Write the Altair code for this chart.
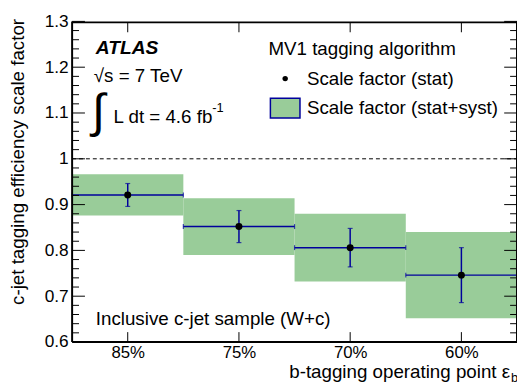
import altair as alt
import pandas as pd
import json

# ---- data ----
op_labels = ["85%", "75%", "70%", "60%"]
scale_factor = [0.921, 0.852, 0.806, 0.746]
stat_err = [0.025, 0.035, 0.042, 0.060]
total_err = [0.045, 0.062, 0.074, 0.094]

y_major = [0.6, 0.7, 0.8, 0.9, 1.0, 1.1, 1.2, 1.3]
y_minor = [round(0.6 + 0.02 * i, 2) for i in range(36) if i % 5 != 0]
x_ticks = [0.5, 1.5, 2.5, 3.5]

# ---- layout / style ----
W, H = 451, 325
FONT = "Liberation Sans"
GREEN = "#99cc99"
BLUE = "#00009c"

df = pd.DataFrame({
    "xc": [i + 0.5 for i in range(len(op_labels))],
    "xlo": [float(i) for i in range(len(op_labels))],
    "xhi": [float(i + 1) for i in range(len(op_labels))],
    "sf": scale_factor,
    "slo": [s - e for s, e in zip(scale_factor, stat_err)],
    "shi": [s + e for s, e in zip(scale_factor, stat_err)],
    "tlo": [s - e for s, e in zip(scale_factor, total_err)],
    "thi": [s + e for s, e in zip(scale_factor, total_err)],
})

xscale = alt.Scale(domain=[0, 4], nice=False, zero=False)
yscale = alt.Scale(domain=[0.6, 1.3], nice=False, zero=False)

xaxis = alt.Axis(values=x_ticks, title=None, ticks=False, domain=False, grid=False,
                 labelExpr=json.dumps(op_labels) + "[floor(datum.value)]",
                 labelFont=FONT, labelFontSize=17, labelColor="black", labelPadding=3)
yaxis = alt.Axis(values=y_major, ticks=False, domain=False, grid=False,
                 labelExpr="datum.value == 1 ? '1' : format(datum.value, '.1f')",
                 labelFont=FONT, labelFontSize=17.5, labelColor="black", labelPadding=4,
                 title="c-jet tagging efficiency scale factor", titleFont=FONT, titleFontSize=19,
                 titleFontWeight="normal", titleColor="black", titleAngle=270,
                 titleAlign="right", titleBaseline="alphabetic", titleX=-49, titleY=-3)


def X(f):
    return alt.X(f, scale=xscale, axis=xaxis)


def Y(f):
    return alt.Y(f, scale=yscale, axis=yaxis)


base = alt.Chart(df)

boxes = base.mark_rect(color=GREEN, opacity=1).encode(
    x=X("xlo:Q"), x2="xhi:Q", y=Y("tlo:Q"), y2="thi:Q")

one_line = alt.Chart(pd.DataFrame({"v": [1.0]})).mark_rule(
    color="black", strokeWidth=1, strokeDash=[4, 3]).encode(
    y=Y("v:Q"), x=alt.value(0), x2=alt.value(W))

hbar = base.mark_rule(color=BLUE, strokeWidth=1.5).encode(
    x=X("xlo:Q"), x2="xhi:Q", y=Y("sf:Q"))
vbar = base.mark_rule(color=BLUE, strokeWidth=1.5).encode(
    x=X("xc:Q"), y=Y("slo:Q"), y2="shi:Q")

cap_lo = base.mark_tick(color=BLUE, thickness=1.2, size=5, orient="horizontal").encode(
    x=X("xc:Q"), y=Y("slo:Q"))
cap_hi = base.mark_tick(color=BLUE, thickness=1.2, size=5, orient="horizontal").encode(
    x=X("xc:Q"), y=Y("shi:Q"))
cap_l = base.mark_tick(color=BLUE, thickness=1.2, size=5, orient="vertical").encode(
    x=X("xlo:Q"), y=Y("sf:Q"))
cap_r = base.mark_tick(color=BLUE, thickness=1.2, size=5, orient="vertical").encode(
    x=X("xhi:Q"), y=Y("sf:Q"))

points = base.mark_circle(color="black", opacity=1, size=50).encode(
    x=X("xc:Q"), y=Y("sf:Q"))

# tick marks drawn inside the frame
ymaj = pd.DataFrame({"v": y_major})
ymin = pd.DataFrame({"v": y_minor})
xt = pd.DataFrame({"v": x_ticks})
tick_layers = []
for d, L in [(ymaj, 13), (ymin, 7)]:
    tick_layers.append(alt.Chart(d).mark_rule(color="black", strokeWidth=1).encode(
        y=Y("v:Q"), x=alt.value(0), x2=alt.value(L)))
    tick_layers.append(alt.Chart(d).mark_rule(color="black", strokeWidth=1).encode(
        y=Y("v:Q"), x=alt.value(W), x2=alt.value(W - L)))
tick_layers.append(alt.Chart(xt).mark_rule(color="black", strokeWidth=1).encode(
    x=X("v:Q"), y=alt.value(H), y2=alt.value(H - 10)))
tick_layers.append(alt.Chart(xt).mark_rule(color="black", strokeWidth=1).encode(
    x=X("v:Q"), y=alt.value(1), y2=alt.value(11)))

one = pd.DataFrame({"a": [0]})
frame = [
    alt.Chart(one).mark_rule(color="black", strokeWidth=2).encode(
        x=alt.value(0), x2=alt.value(W), y=alt.value(1)),
    alt.Chart(one).mark_rule(color="black", strokeWidth=2).encode(
        x=alt.value(0), x2=alt.value(W), y=alt.value(H)),
    alt.Chart(one).mark_rule(color="black", strokeWidth=2).encode(
        y=alt.value(0), y2=alt.value(H), x=alt.value(0)),
    alt.Chart(one).mark_rule(color="black", strokeWidth=2).encode(
        y=alt.value(0), y2=alt.value(H), x=alt.value(W)),
]


def label(text, x, y, size=19, weight="normal", style="normal", align="left"):
    return alt.Chart(pd.DataFrame({"t": [text]})).mark_text(
        font=FONT, fontSize=size, fontWeight=weight, fontStyle=style, align=align,
        baseline="alphabetic", color="black").encode(
        text="t:N", x=alt.value(x), y=alt.value(y))


texts = [
    label("ATLAS", 24, 33, size=19.5, weight="bold", style="italic"),
    label("\u221As = 7 TeV", 22, 61),
    label("\u222B", 20, 107, size=48),
    label("L dt = 4.6 fb", 42, 103),
    label("-1", 142, 92, size=13),
    label("MV1 tagging algorithm", 199, 34),
    label("Scale factor (stat)", 238, 64),
    label("Scale factor (stat+syst)", 238, 94),
    label("Inclusive c-jet sample (W+c)", 24, 308),
    label("b-tagging operating point \u03B5", 444, 362, align="right"),
    label("b", 445, 366, size=13),
]

leg_dot = alt.Chart(one).mark_circle(color="black", opacity=1, size=30).encode(
    x=alt.value(216), y=alt.value(58))
leg_box = alt.Chart(one).mark_rect(
    color=GREEN, stroke=BLUE, strokeWidth=1.5, opacity=1).encode(
    x=alt.value(201), x2=alt.value(231), y=alt.value(78), y2=alt.value(98))

chart = alt.layer(
    boxes, one_line, hbar, vbar, cap_lo, cap_hi, cap_l, cap_r, points,
    *tick_layers, *frame, *texts, leg_dot, leg_box
).properties(
    width=W, height=H,
    autosize=alt.AutoSizeParams(type="none"),
    padding={"left": 65, "top": 11, "right": 0, "bottom": 40},
).configure_view(stroke="transparent", strokeWidth=0)

chart.save("out.html", embed_options={"renderer": "svg", "actions": False})
